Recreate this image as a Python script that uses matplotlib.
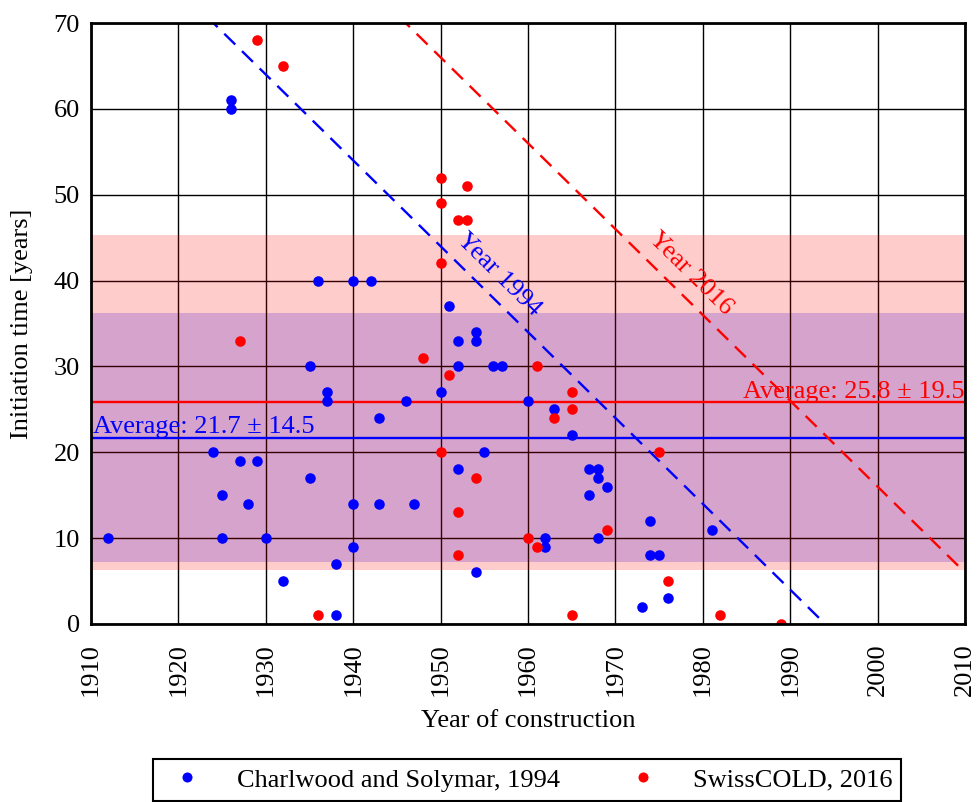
import matplotlib
matplotlib.use("Agg")
import matplotlib.pyplot as plt
import numpy as np

plt.rcParams['font.family'] = ['Liberation Serif', 'DejaVu Serif']

# Charlwood and Solymar, 1994 (blue)
cs_year = [1912, 1924, 1925, 1925, 1926, 1926, 1927, 1928, 1929, 1930,
           1932, 1935, 1935, 1936, 1937, 1937, 1938, 1938, 1940, 1940,
           1940, 1942, 1943, 1943, 1946, 1947, 1950, 1951, 1952, 1952,
           1952, 1954, 1954, 1954, 1955, 1956, 1957, 1960, 1962, 1962,
           1963, 1965, 1967, 1967, 1968, 1968, 1968, 1969, 1973, 1974,
           1974, 1975, 1976, 1981]
cs_time = [10, 20, 15, 10, 61, 60, 19, 14, 19, 10,
           5, 30, 17, 40, 27, 26, 7, 1, 40, 14,
           9, 40, 24, 14, 26, 14, 27, 37, 33, 30,
           18, 34, 33, 6, 20, 30, 30, 26, 10, 9,
           25, 22, 18, 15, 18, 17, 10, 16, 2, 12,
           8, 8, 3, 11]

# SwissCOLD, 2016 (red)
sc_year = [1927, 1929, 1932, 1936, 1948, 1950, 1950, 1950, 1950, 1951,
           1952, 1952, 1952, 1953, 1953, 1954, 1960, 1961, 1961, 1963,
           1965, 1965, 1965, 1969, 1975, 1976, 1982, 1989]
sc_time = [33, 68, 65, 1, 31, 52, 49, 42, 20, 29,
           47, 13, 8, 51, 47, 17, 10, 30, 9, 24,
           27, 25, 1, 11, 20, 5, 1, 0]

cs_mean, cs_std = 21.7, 14.5
sc_mean, sc_std = 25.8, 19.5
ref_years = [1994, 2016]

xticks = list(range(1910, 2011, 10))
yticks = list(range(0, 71, 10))

W, H = 979, 802
fig = plt.figure(figsize=(W / 100, H / 100), dpi=100)
ax = fig.add_axes([91 / W, 1 - 624 / H, (965 - 91) / W, (624 - 23) / H])

FS = 19

# bands (mean +/- std)
ax.axhspan(cs_mean - cs_std, cs_mean + cs_std, color='blue', alpha=0.2, lw=0, zorder=0.5)
ax.axhspan(sc_mean - sc_std, sc_mean + sc_std, color='red', alpha=0.2, lw=0, zorder=0.6)

ax.grid(True, color='black', lw=1.0, zorder=1)
ax.set_axisbelow(True)

# averages
ax.axhline(cs_mean, color='blue', lw=1.7, zorder=2)
ax.axhline(sc_mean, color='red', lw=1.7, zorder=2)

# reference year lines: construction year + initiation time = reference year
xs = np.array([1910, 2010])
ax.plot(xs, ref_years[0] - xs, color='blue', lw=1.7, dashes=(6.5, 4), zorder=2)
ax.plot(xs, ref_years[1] - xs, color='red', lw=1.7, dashes=(6.5, 4), zorder=2)

ax.plot(cs_year, cs_time, 'o', color='blue', ms=7.6, mew=0, zorder=3,
        label='Charlwood and Solymar, 1994')
ax.plot(sc_year, sc_time, 'o', color='red', ms=7.6, mew=0, zorder=3,
        label='SwissCOLD, 2016')

ax.text(1956.6, 40.7, 'Year 1994', color='blue', fontsize=FS, rotation=-44.5,
        ha='center', va='center', rotation_mode='anchor', zorder=4)
ax.text(1978.6, 40.8, 'Year 2016', color='red', fontsize=FS, rotation=-44.5,
        ha='center', va='center', rotation_mode='anchor', zorder=4)

ax.text(1910.2, 22.3, 'Average: 21.7 ± 14.5', color='blue', fontsize=FS,
        ha='left', va='baseline', zorder=4)
ax.text(2009.9, 26.3, 'Average: 25.8 ± 19.5', color='red', fontsize=FS,
        ha='right', va='baseline', zorder=4)

ax.set_xlim(1910, 2010)
ax.set_ylim(0, 70)
ax.set_xticks(xticks)
ax.set_yticks(yticks)
ax.tick_params(axis='x', labelsize=FS, rotation=90, length=0, pad=14)
ax.tick_params(axis='y', labelsize=FS, length=0, pad=8)
for s in ax.spines.values():
    s.set_linewidth(2)
    s.set_zorder(5)

ax.set_xlabel('Year of construction', fontsize=FS)
ax.set_ylabel('Initiation time [years]', fontsize=FS)
ax.xaxis.set_label_coords(0.5, -0.143)
ax.yaxis.set_label_coords(-0.0784, 0.5)
ax.yaxis.label.set_va('center')

leg = fig.legend(loc='upper left', bbox_to_anchor=(153 / W, 1 - 759 / H),
                 borderaxespad=0, ncol=2, fontsize=FS, frameon=True,
                 fancybox=False, edgecolor='black', framealpha=1,
                 handlelength=1.9, handletextpad=0.95, columnspacing=2.16,
                 borderpad=0.35, markerscale=0.95)
leg.get_frame().set_linewidth(1.5)

fig.savefig('out.png', dpi=100)
